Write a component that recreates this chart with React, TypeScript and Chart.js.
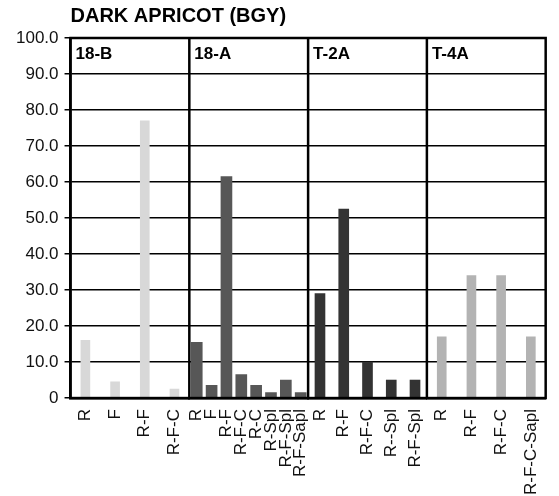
import React, { useEffect, useRef } from "react";
import { Chart, registerables } from "chart.js";

Chart.register(...registerables);

const chartTitle = "DARK APRICOT (BGY)";
const panelNames = ["18-B", "18-A", "T-2A", "T-4A"];

const labels18B = ["R", "F", "R-F", "R-F-C"];
const values18B = [16, 4.5, 77, 2.5];

const labels18A = ["R", "F", "R-F", "R-F-C", "R-C", "R-Spl", "R-F-Spl", "R-F-Sapl"];
const values18A = [15.5, 3.5, 61.5, 6.5, 3.5, 1.5, 5, 1.5];

const labelsT2A = ["R", "R-F", "R-F-C", "R--Spl", "R-F-Spl"];
const valuesT2A = [29, 52.5, 10, 5, 5];

const labelsT4A = ["R", "R-F", "R-F-C", "R-F-C-Sapl"];
const valuesT4A = [17, 34, 34, 17];

const yTickLabels = ["0", "10.0", "20.0", "30.0", "40.0", "50.0", "60.0", "70.0", "80.0", "90.0", "100.0"];

const FONT = "'Liberation Sans', Arial, sans-serif";

const panelLabels = [labels18B, labels18A, labelsT2A, labelsT4A];
const panelValues = [values18B, values18A, valuesT2A, valuesT4A];
const panelColors = ["#d8d8d8", "#575757", "#333333", "#b3b3b3"];
const panelThickness = [9, 11, 10, 9];

const framePlugin = {
  id: "framePlugin",
  afterDraw(chart: any) {
    const ctx = chart.ctx;
    const area = chart.chartArea;
    const yScale = chart.scales.y;
    ctx.save();
    ctx.strokeStyle = "#000";
    ctx.lineWidth = 2.5;
    panelNames.forEach((name, i) => {
      const sc = chart.scales["x" + i];
      if (i > 0) {
        ctx.beginPath();
        ctx.moveTo(sc.left, area.top);
        ctx.lineTo(sc.left, area.bottom);
        ctx.stroke();
      }
      ctx.fillStyle = "#000";
      ctx.font = "bold 17px " + FONT;
      ctx.textAlign = "left";
      ctx.textBaseline = "middle";
      ctx.fillText(name, sc.left + 5, yScale.getPixelForValue(95.5));
    });
    ctx.strokeRect(area.left, area.top, area.right - area.left, area.bottom - area.top);
    ctx.restore();
  },
};

export default function App() {
  const ref = useRef<HTMLCanvasElement | null>(null);

  useEffect(() => {
    if (!ref.current) return;
    const scales: any = {
      y: {
        type: "linear",
        position: "left",
        min: 0,
        max: 100,
        z: 1,
        ticks: {
          stepSize: 10,
          color: "#111",
          padding: 6,
          font: { family: FONT, size: 17 },
          callback: (_v: any, idx: number) => yTickLabels[idx],
        },
        grid: {
          color: "#000",
          lineWidth: 1.5,
          tickLength: 6,
          tickColor: "#000",
          tickWidth: 1.5,
        },
        border: { display: true, color: "#000", width: 2.5 },
      },
    };
    panelLabels.forEach((labs, i) => {
      scales["x" + i] = {
        type: "category",
        axis: "x",
        position: "bottom",
        stack: "panels",
        labels: labs,
        offset: true,
        grid: { display: false },
        border: { display: true, color: "#000", width: 2.5 },
        ticks: {
          autoSkip: false,
          minRotation: 90,
          maxRotation: 90,
          padding: 3,
          color: "#111",
          font: { family: FONT, size: 17 },
        },
      };
    });
    const datasets = panelValues.map((vals, i) => ({
      label: panelNames[i],
      data: vals,
      xAxisID: "x" + i,
      yAxisID: "y",
      grouped: false,
      backgroundColor: panelColors[i],
      borderWidth: 0,
      barThickness: panelThickness[i],
    }));

    const chart = new Chart(ref.current, {
      type: "bar",
      data: { datasets },
      options: {
        responsive: false,
        animation: false,
        layout: { padding: { left: 10, right: 0, top: 4, bottom: -2 } },
        plugins: {
          legend: { display: false },
          tooltip: { enabled: false },
          title: {
            display: true,
            text: chartTitle,
            align: "start",
            fullSize: false,
            color: "#000",
            font: { family: FONT, size: 20, weight: "bold" },
            padding: { top: 0, bottom: 10 },
          },
        },
        scales,
      },
      plugins: [framePlugin],
    } as any);
    return () => chart.destroy();
  }, []);

  return (
    <div style={{ position: "fixed", left: 0, top: 0, width: 559, height: 496, overflow: "hidden", background: "#fff" }}>
      <canvas ref={ref} width={566} height={496} style={{ display: "block" }} />
    </div>
  );
}
